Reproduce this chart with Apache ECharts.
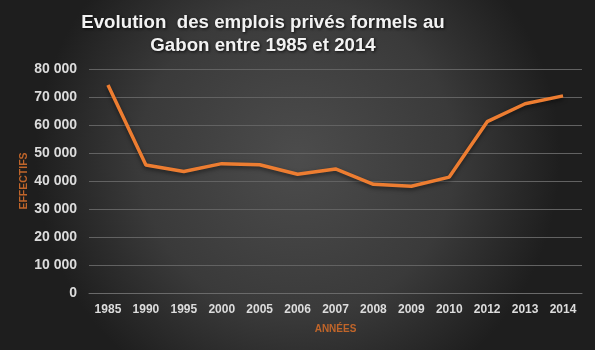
<!DOCTYPE html>
<html>
<head>
<meta charset="utf-8">
<script src="https://cdn.jsdelivr.net/npm/echarts@6/dist/echarts.min.js"></script>
<style>html,body{margin:0;padding:0;background:#333;}#c{width:595px;height:350px;}</style>
</head>
<body>
<div id="c"></div>
<script>
const categories = ['1985','1990','1995','2000','2005','2006','2007','2008','2009','2010','2012','2013','2014'];
const effectifs = [74300, 45700, 43400, 46200, 45800, 42400, 44300, 38800, 38100, 41400, 61200, 67600, 70400];
const yTicks = [0, 10000, 20000, 30000, 40000, 50000, 60000, 70000, 80000];

const chart = echarts.init(document.getElementById('c'), null, {renderer: 'canvas'});
function fmt(v){ return v === 0 ? '0' : (Math.floor(v/1000)) + ' ' + String(v%1000).padStart(3,'0'); }
chart.setOption({
  animation: false,
  backgroundColor: {
    type: 'radial', x: 0.5, y: 0.45, r: 0.75,
    colorStops: [{offset: 0, color: '#4c4c4c'}, {offset: 0.6, color: '#3a3a3a'}, {offset: 1, color: '#1e1e1e'}]
  },
  title: {
    text: 'Evolution  des emplois privés formels au\nGabon entre 1985 et 2014',
    left: 258, top: 6, textAlign: 'center',
    textStyle: {
      color: '#f2f2f2', fontFamily: 'Liberation Sans, Arial', fontWeight: 'bold', fontSize: 18.7, lineHeight: 23,
      textShadowColor: 'rgba(0,0,0,0.8)', textShadowBlur: 3, textShadowOffsetX: 1, textShadowOffsetY: 1
    }
  },
  grid: {left: 89, right: 13, top: 69, bottom: 57},
  xAxis: {
    type: 'category', data: categories, boundaryGap: true,
    name: 'ANNÉES', nameLocation: 'middle', nameGap: 31, nameMoveOverlap: false,
    nameTextStyle: {color: '#c0652a', fontFamily: 'Liberation Sans, Arial', fontWeight: 'bold', fontSize: 10},
    axisLine: {lineStyle: {color: '#6a6a6a', width: 1}},
    axisTick: {show: false},
    axisLabel: {color: '#dcdcdc', fontFamily: 'Liberation Sans, Arial', fontWeight: 'bold', fontSize: 12, margin: 11, interval: 0}
  },
  yAxis: {
    type: 'value', min: yTicks[0], max: yTicks[yTicks.length-1], interval: 10000,
    name: 'EFFECTIFS', nameLocation: 'middle', nameGap: 59, nameRotate: 90, nameMoveOverlap: false,
    nameTextStyle: {color: '#c0652a', fontFamily: 'Liberation Sans, Arial', fontWeight: 'bold', fontSize: 10.5},
    axisLine: {show: false}, axisTick: {show: false},
    splitLine: {lineStyle: {color: '#626262', width: 1}},
    axisLabel: {color: '#dcdcdc', fontFamily: 'Liberation Sans, Arial', fontWeight: 'bold', fontSize: 14, margin: 12, formatter: fmt}
  },
  series: [{
    type: 'line', data: effectifs, symbol: 'none',
    lineStyle: {color: '#ed7d31', width: 3.5, shadowColor: 'rgba(0,0,0,0.5)', shadowBlur: 4, shadowOffsetY: 2},
    z: 3
  }]
});
</script>
</body>
</html>
